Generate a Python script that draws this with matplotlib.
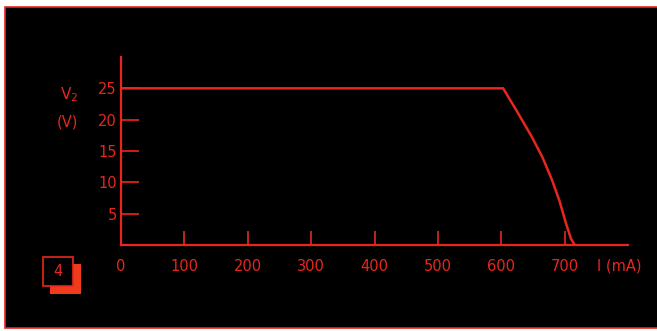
import matplotlib
matplotlib.use('Agg')
import matplotlib.pyplot as plt
from matplotlib.patches import Rectangle

# output voltage vs load current
current_mA = [0, 603, 625, 648, 665, 680, 692, 702, 710, 716]
voltage_V = [25, 25, 21.3, 17.3, 14.0, 10.4, 7.0, 3.5, 1.0, 0]

x_ticks = [0, 100, 200, 300, 400, 500, 600, 700]
y_ticks = [5, 10, 15, 20, 25]

red = '#e8261e'

fig = plt.figure(figsize=(6.57, 3.31), dpi=100, facecolor='white')

# black panel with thin red frame
fig.patches.append(Rectangle((5 / 657, 3 / 331), 1.0, 321 / 331, transform=fig.transFigure,
                             facecolor='black', edgecolor=red, linewidth=1.2, zorder=-5))

ax = fig.add_axes([121 / 657, 1 - 245 / 331, 507 / 657, 188 / 331])
ax.set_zorder(5)
ax.set_facecolor('none')
ax.plot(current_mA, voltage_V, color=red, linewidth=1.8, solid_joinstyle='round')

ax.set_xlim(0, 800)
ax.set_ylim(0, 30)
ax.set_xticks(x_ticks)
ax.set_yticks(y_ticks)
ax.set_xticklabels([str(t) for t in x_ticks])
ax.set_yticklabels([str(t) for t in y_ticks])

for side in ['top', 'right']:
    ax.spines[side].set_visible(False)
for side in ['left', 'bottom']:
    ax.spines[side].set_color(red)
    ax.spines[side].set_linewidth(1.6)

ax.tick_params(axis='both', colors=red, labelsize=10.5, width=1.2, direction='in', labelcolor=red)
ax.tick_params(axis='y', length=13, pad=3)
ax.tick_params(axis='x', length=10, pad=10)

fig.text(69 / 657, 1 - 95 / 331, r'V$_2$', color=red, fontsize=11, ha='center', va='center')
fig.text(67 / 657, 1 - 122 / 331, '(V)', color=red, fontsize=10.5, ha='center', va='center')
fig.text(619 / 657, 1 - 266 / 331, 'I (mA)', color=red, fontsize=10.5, ha='center', va='center')

# figure number box
fig.patches.append(Rectangle((50 / 657, 1 - 294 / 331), 31 / 657, 30 / 331,
                             transform=fig.transFigure, facecolor='#f03a1c',
                             edgecolor='none', zorder=2))
fig.patches.append(Rectangle((43 / 657, 1 - 286 / 331), 30 / 657, 29 / 331,
                             transform=fig.transFigure, facecolor='black',
                             edgecolor=red, linewidth=1.2, zorder=3))
fig.text(58 / 657, 1 - 272 / 331, '4', color=red, fontsize=10.5, ha='center', va='center', zorder=4)

fig.savefig('out.png', dpi=100, facecolor='white')
